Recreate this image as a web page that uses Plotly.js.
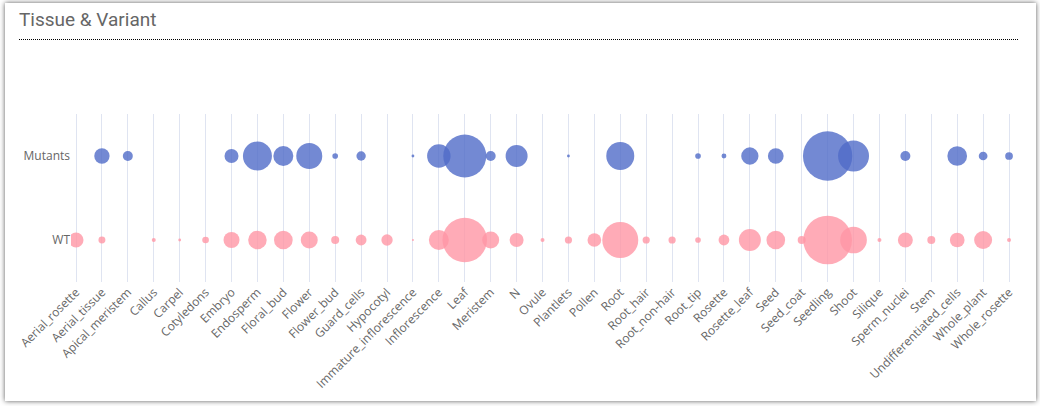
<!DOCTYPE html>
<html>
<head>
<meta charset="utf-8">
<script src="https://cdn.plot.ly/plotly-3.0.1.min.js"></script>
<style>
  html, body { margin: 0; padding: 0; background: #ffffff; width: 1040px; height: 406px; overflow: hidden; }
  #card { position: absolute; left: 5px; top: 3px; width: 1031px; height: 398px; background: #fff;
          box-shadow: 0 0 5px rgba(0,0,0,0.65); }
  #chart { position: absolute; left: 0; top: 0; width: 1040px; height: 406px; }
</style>
</head>
<body>
<div id="card"></div>
<div id="chart"></div>
<script>
const tissues = ["Aerial_rosette","Aerial_tissue","Apical_meristem","Callus","Carpel","Cotyledons","Embryo","Endosperm","Floral_bud","Flower","Flower_bud","Guard_cells","Hypocotyl","Immature_inflorescence","Inflorescence","Leaf","Meristem","N","Ovule","Plantlets","Pollen","Root","Root_hair","Root_non-hair","Root_tip","Rosette","Rosette_leaf","Seed","Seed_coat","Seedling","Shoot","Silique","Sperm_nuclei","Stem","Undifferentiated_cells","Whole_plant","Whole_rosette"];
const variants = ["WT","Mutants"];
const mutantCounts = [0,59,25,0,0,0,49,210,100,169,8,22,0,2,138,462,25,121,0,2,0,196,0,0,8,6,75,62,0,608,240,0,25,0,97,19,15];
const wtCounts = [56,12,0,4,2,11,64,86,87,72,16,29,32,1,100,495,72,49,4,13,47,324,13,13,8,29,121,87,16,593,178,4,56,16,54,81,4];

const W = 1040, H = 406;
const mL = 71, mR = 18, mT = 114, mB = 124;
const plotW = W - mL - mR, plotH = H - mT - mB;

function makeTrace(counts, name, color) {
  const xs = [], ys = [], sz = [], vals = [];
  counts.forEach((v, i) => {
    if (v > 0) { xs.push(tissues[i]); ys.push(name); sz.push(2 * Math.sqrt(v)); vals.push(v); }
  });
  return {
    type: 'scatter', mode: 'markers', x: xs, y: ys, name: name,
    customdata: vals,
    hovertemplate: '%{x}<br>' + name + ': %{customdata}<extra></extra>',
    marker: { size: sz, sizemode: 'diameter', color: color, opacity: 0.8, line: { width: 0 } }
  };
}

const data = [
  makeTrace(wtCounts, "WT", 'rgb(255,150,165)'),
  makeTrace(mutantCounts, "Mutants", 'rgb(80,108,200)')
];

const x0 = -0.193, x1 = tissues.length - 1 + 0.5;
const lineY = 39.5;

const layout = {
  width: W, height: H,
  margin: { l: mL, r: mR, t: mT, b: mB, pad: 0 },
  paper_bgcolor: 'rgba(0,0,0,0)',
  plot_bgcolor: 'rgba(0,0,0,0)',
  showlegend: false,
  font: { family: '"Open Sans", "Noto Sans", sans-serif', size: 12, color: '#666' },
  title: {
    text: 'Tissue & Variant',
    x: 19 / W, xref: 'container', xanchor: 'left',
    y: 1 - 19 / H, yref: 'container', yanchor: 'middle',
    font: { family: 'Roboto, "Open Sans", sans-serif', size: 19, color: '#666' }
  },
  xaxis: {
    type: 'category', categoryorder: 'array', categoryarray: tissues,
    range: [x0, x1], fixedrange: true,
    showgrid: true, gridcolor: '#dfe4f1', gridwidth: 1,
    zeroline: false, showline: false, ticks: '',
    tickangle: -45, tickfont: { size: 12, color: '#666' }
  },
  yaxis: {
    type: 'category', categoryorder: 'array', categoryarray: variants,
    range: [-0.5, 1.5], fixedrange: true,
    showgrid: false, zeroline: false, showline: false, ticks: '',
    tickfont: { size: 12, color: '#666' }
  },
  shapes: [{
    type: 'line', xref: 'paper', yref: 'paper',
    x0: (19 - mL) / plotW, x1: (1018 - mL) / plotW,
    y0: (H - mB - lineY) / plotH, y1: (H - mB - lineY) / plotH,
    line: { color: '#000', width: 1, dash: '1px,1px' }
  }]
};

Plotly.newPlot('chart', data, layout, { displayModeBar: false });
</script>
</body>
</html>
